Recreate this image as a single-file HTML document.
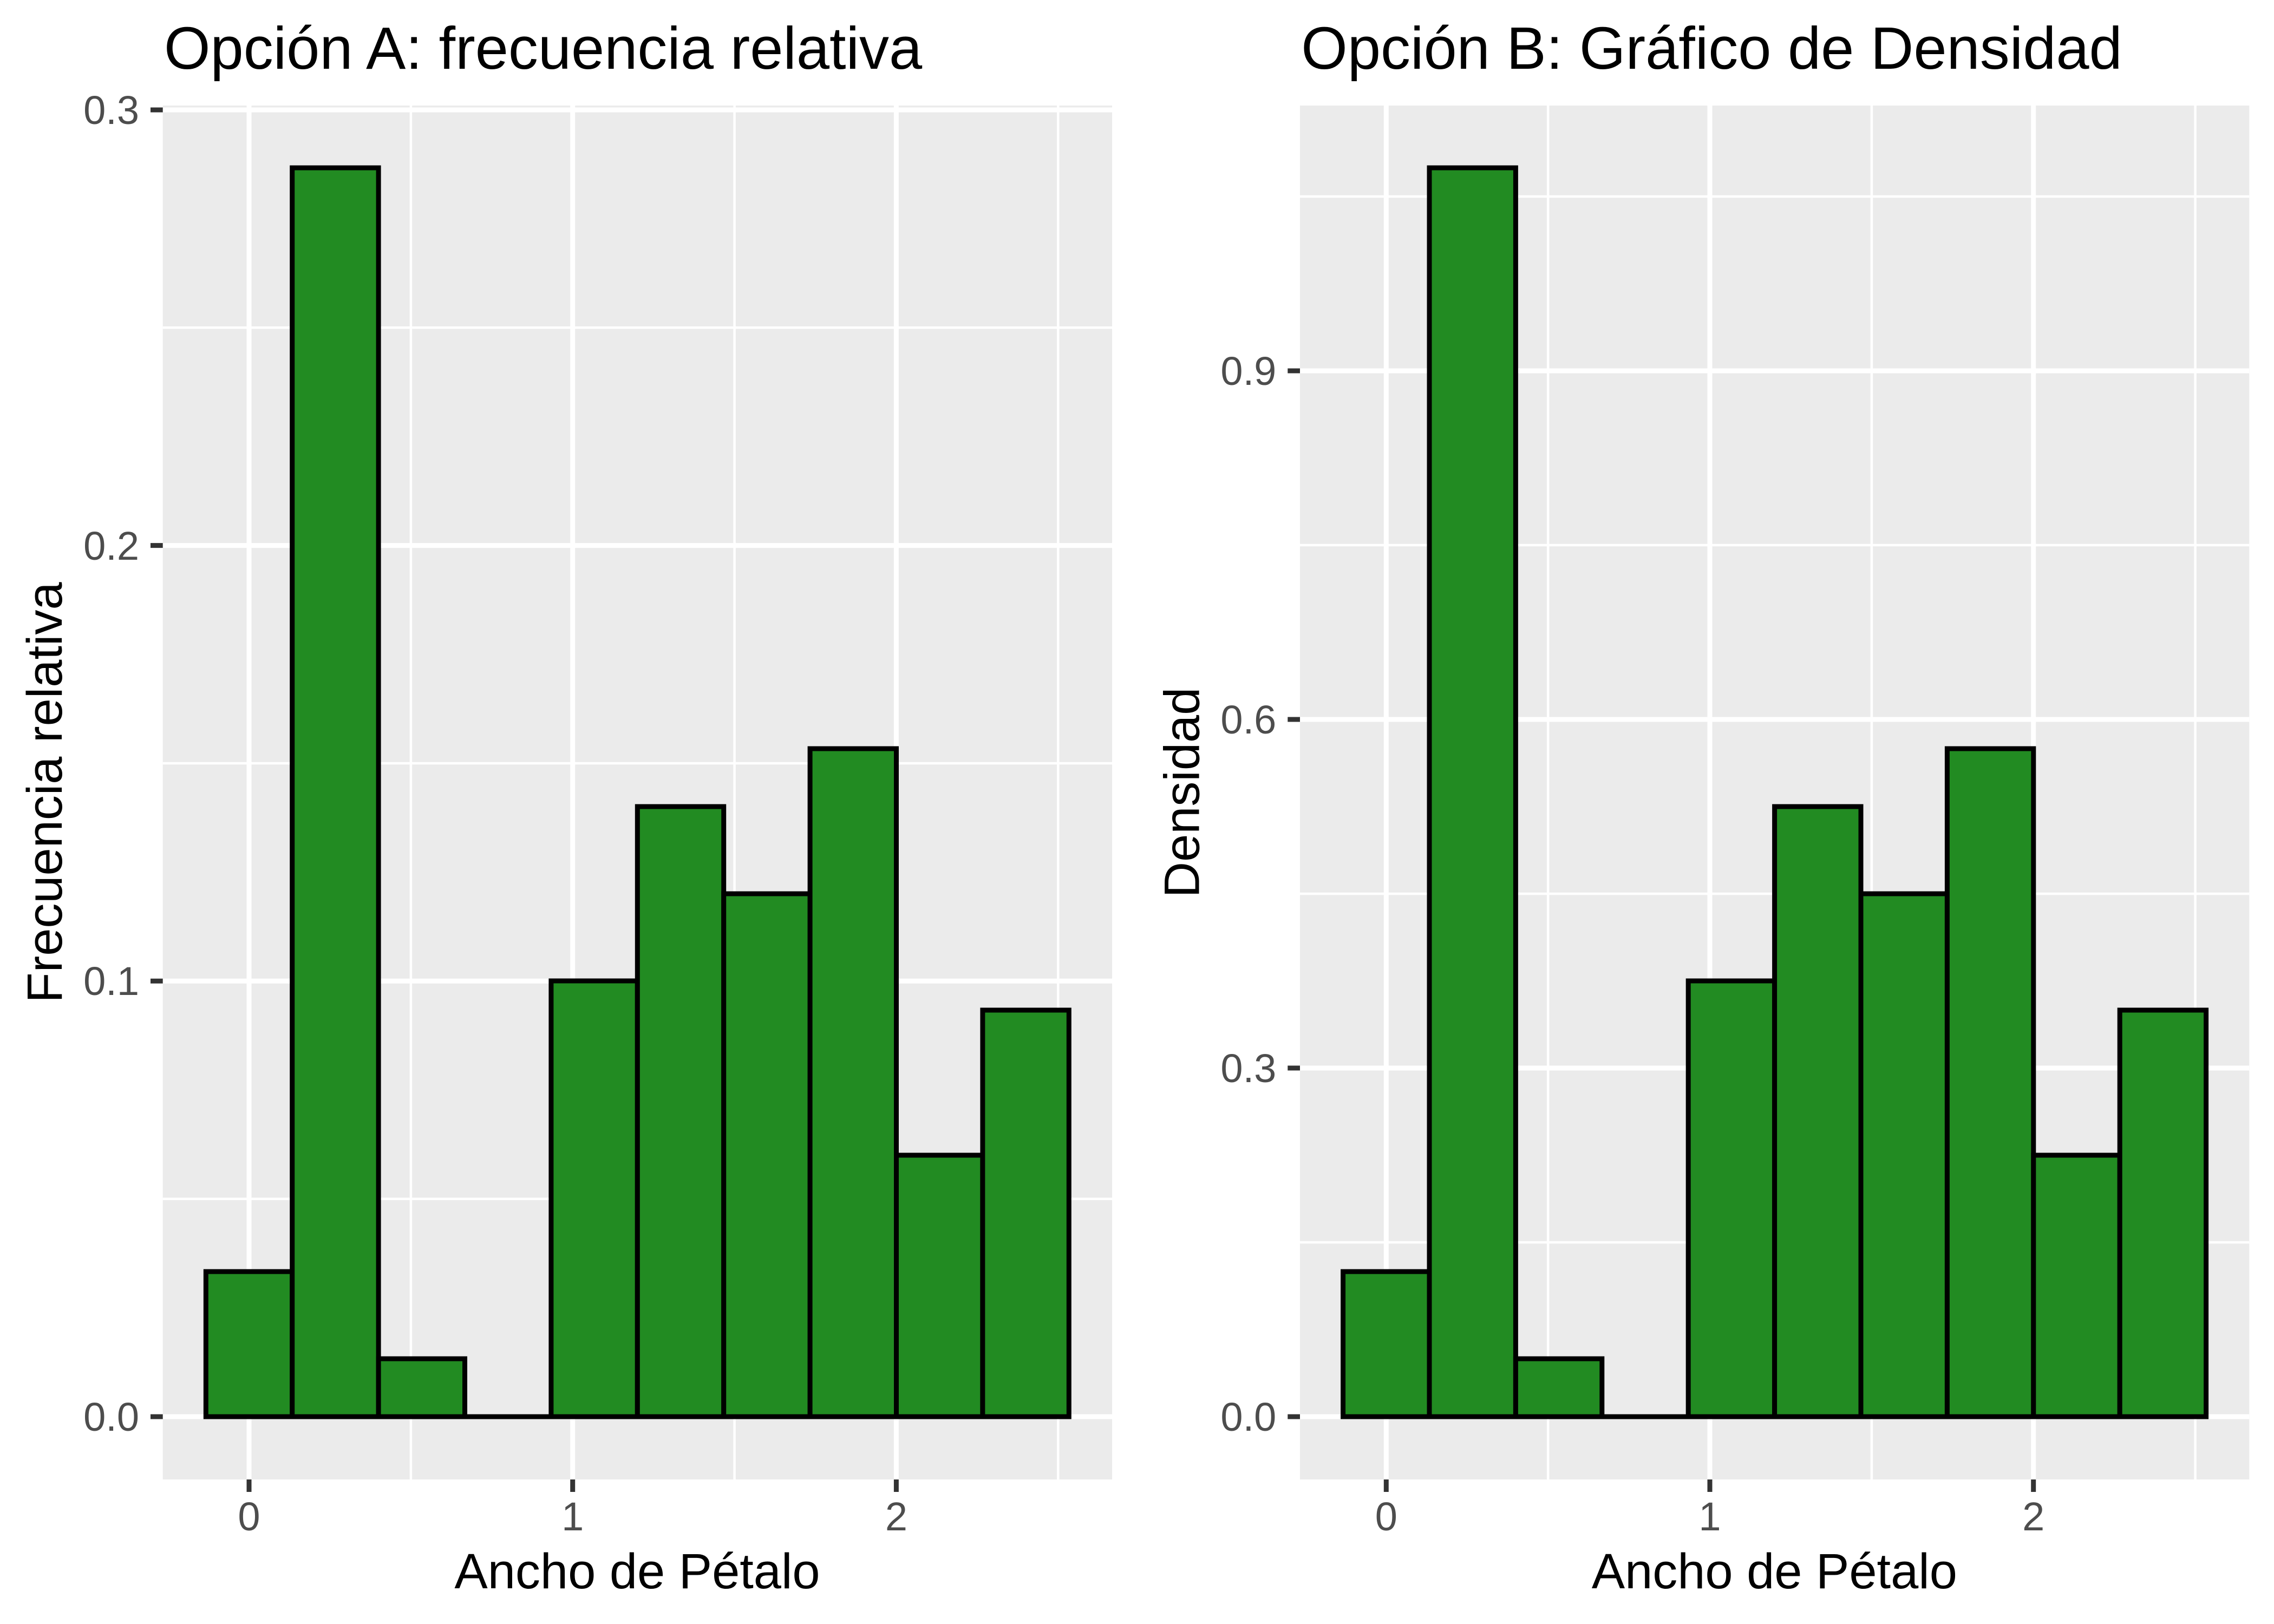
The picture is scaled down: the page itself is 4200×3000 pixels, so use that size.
<!DOCTYPE html>
<html><head><meta charset="utf-8"><style>html,body{margin:0;padding:0;background:#fff}svg{display:block}</style></head>
<body>
<svg xmlns="http://www.w3.org/2000/svg" width="4200" height="3000" viewBox="0 0 4200 3000" font-family="Liberation Sans, Arial, sans-serif">
<rect width="4200" height="3000" fill="#fff"/>
<defs>
<g id="vgrid">
  <g stroke="#fff" stroke-width="4.5">
    <line x1="758.9" y1="195" x2="758.9" y2="2733"/>
    <line x1="1356.6" y1="195" x2="1356.6" y2="2733"/>
    <line x1="1954.3" y1="195" x2="1954.3" y2="2733"/>
  </g>
  <g stroke="#fff" stroke-width="9">
    <line x1="460" y1="195" x2="460" y2="2733"/>
    <line x1="1057.7" y1="195" x2="1057.7" y2="2733"/>
    <line x1="1655.4" y1="195" x2="1655.4" y2="2733"/>
  </g>
</g>
<g id="bars" fill="#228B22" stroke="#000" stroke-width="9" stroke-linejoin="miter">
  <rect x="380.3" y="2349" width="159.4" height="268"/>
  <rect x="539.7" y="310" width="159.4" height="2307"/>
  <rect x="699.1" y="2510" width="159.4" height="107"/>
  <line x1="858.5" y1="2617" x2="1017.9" y2="2617"/>
  <rect x="1017.9" y="1812" width="159.4" height="805"/>
  <rect x="1177.3" y="1490" width="159.4" height="1127"/>
  <rect x="1336.7" y="1651" width="159.4" height="966"/>
  <rect x="1496.1" y="1383" width="159.4" height="1234"/>
  <rect x="1655.5" y="2134" width="159.4" height="483"/>
  <rect x="1814.9" y="1866" width="159.4" height="751"/>
</g>
<g id="xaxis">
  <g stroke="#333" stroke-width="9">
    <line x1="460" y1="2733" x2="460" y2="2756"/>
    <line x1="1057.7" y1="2733" x2="1057.7" y2="2756"/>
    <line x1="1655.4" y1="2733" x2="1655.4" y2="2756"/>
  </g>
  <g fill="#4D4D4D" font-size="74" text-anchor="middle">
    <text x="460" y="2827">0</text>
    <text x="1057.7" y="2827">1</text>
    <text x="1655.4" y="2827">2</text>
  </g>
  <text x="1177" y="2934" font-size="92" text-anchor="middle" fill="#000">Ancho de Pétalo</text>
</g>
</defs>

<!-- Panel A -->
<rect x="300.7" y="195" width="1753.3" height="2538" fill="#EBEBEB"/>
<g stroke="#fff" stroke-width="4.5">
  <line x1="300.7" y1="2214.7" x2="2054" y2="2214.7"/>
  <line x1="300.7" y1="1410" x2="2054" y2="1410"/>
  <line x1="300.7" y1="605.3" x2="2054" y2="605.3"/>
</g>
<g stroke="#fff" stroke-width="9">
  <line x1="300.7" y1="2617" x2="2054" y2="2617"/>
  <line x1="300.7" y1="1812.3" x2="2054" y2="1812.3"/>
  <line x1="300.7" y1="1007.6" x2="2054" y2="1007.6"/>
  <line x1="300.7" y1="203" x2="2054" y2="203"/>
</g>
<use href="#vgrid"/>
<use href="#bars"/>
<g stroke="#333" stroke-width="9">
  <line x1="278" y1="2617" x2="300.7" y2="2617"/>
  <line x1="278" y1="1812.3" x2="300.7" y2="1812.3"/>
  <line x1="278" y1="1007.6" x2="300.7" y2="1007.6"/>
  <line x1="278" y1="203" x2="300.7" y2="203"/>
</g>
<g fill="#4D4D4D" font-size="74" text-anchor="end">
  <text x="257" y="2643">0.0</text>
  <text x="257" y="1838">0.1</text>
  <text x="257" y="1034">0.2</text>
  <text x="257" y="229">0.3</text>
</g>
<use href="#xaxis"/>
<text x="114" y="1464" font-size="92" text-anchor="middle" transform="rotate(-90 114 1464)">Frecuencia relativa</text>
<text x="303" y="127" font-size="110">Opción A: frecuencia relativa</text>

<!-- Panel B -->
<g transform="translate(2100.3,0)">
<rect x="300.7" y="195" width="1753.3" height="2538" fill="#EBEBEB"/>
<g stroke="#fff" stroke-width="4.5">
  <line x1="300.7" y1="2295" x2="2054" y2="2295"/>
  <line x1="300.7" y1="1651" x2="2054" y2="1651"/>
  <line x1="300.7" y1="1007" x2="2054" y2="1007"/>
  <line x1="300.7" y1="363" x2="2054" y2="363"/>
</g>
<g stroke="#fff" stroke-width="9">
  <line x1="300.7" y1="2617" x2="2054" y2="2617"/>
  <line x1="300.7" y1="1973" x2="2054" y2="1973"/>
  <line x1="300.7" y1="1329" x2="2054" y2="1329"/>
  <line x1="300.7" y1="685" x2="2054" y2="685"/>
</g>
<use href="#vgrid"/>
<use href="#bars"/>
<g stroke="#333" stroke-width="9">
  <line x1="278" y1="2617" x2="300.7" y2="2617"/>
  <line x1="278" y1="1973" x2="300.7" y2="1973"/>
  <line x1="278" y1="1329" x2="300.7" y2="1329"/>
  <line x1="278" y1="685" x2="300.7" y2="685"/>
</g>
<g fill="#4D4D4D" font-size="74" text-anchor="end">
  <text x="257" y="2643">0.0</text>
  <text x="257" y="1999">0.3</text>
  <text x="257" y="1355">0.6</text>
  <text x="257" y="711">0.9</text>
</g>
<use href="#xaxis"/>
<text x="114" y="1464" font-size="92" text-anchor="middle" transform="rotate(-90 114 1464)">Densidad</text>
<text x="303" y="127" font-size="110">Opción B: Gráfico de Densidad</text>
</g>
</svg>
</body></html>
